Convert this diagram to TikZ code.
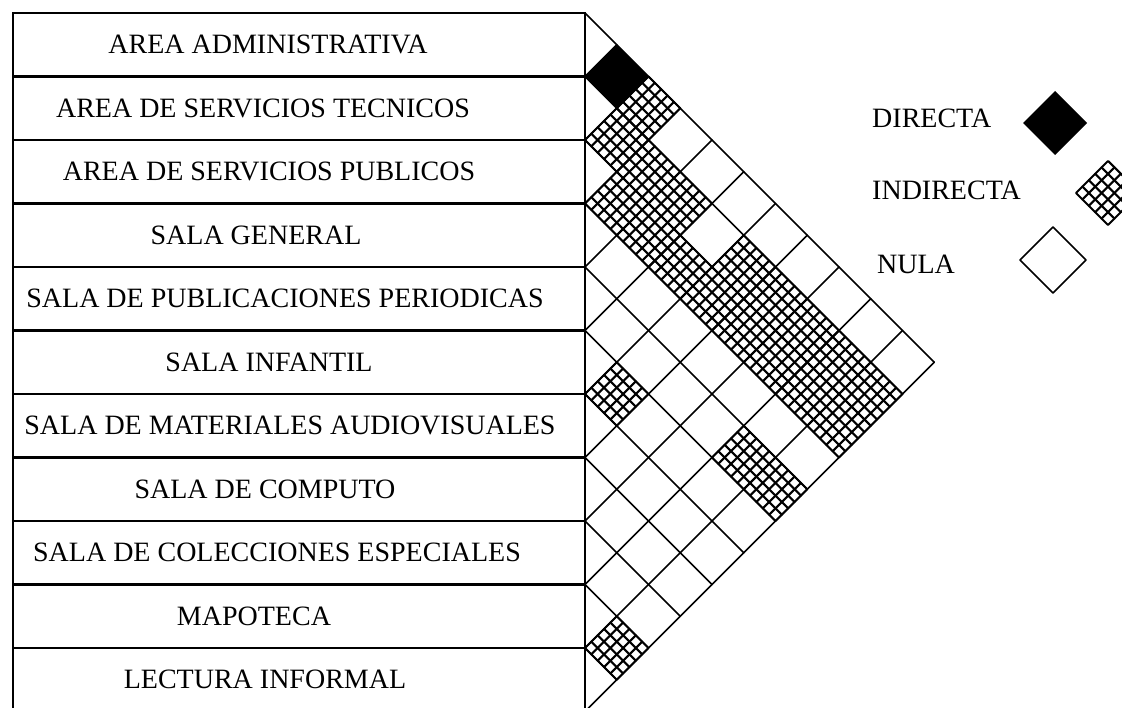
\documentclass[tikz,border=0pt]{standalone}
\usepackage{fontspec}
\setmainfont{Liberation Serif}
\newcommand{\hatchdia}[3]{%
  \begin{scope}
  \foreach \f in {0.2,0.4,0.6,0.8} {
    \draw[hatchln] ({#1-#3+\f*#3},{#2-\f*#3}) -- ({#1+\f*#3},{#2+#3-\f*#3});
    \draw[hatchln] ({#1-#3+\f*#3},{#2+\f*#3}) -- ({#1+\f*#3},{#2-#3+\f*#3});
  }
  \draw[hatchln] ({#1-#3},#2) -- (#1,{#2-#3}) -- ({#1+#3},#2) -- (#1,{#2+#3}) -- cycle;
  \end{scope}}
\newcommand{\hcell}[2]{%
  \pgfmathsetmacro{\cx}{585+(#2-#1)*31.75}%
  \pgfmathsetmacro{\cy}{13+(#1+#2+1)*31.75}%
  \hatchdia{\cx}{\cy}{31.75}}
\begin{document}
\begin{tikzpicture}[x=1pt,y=-1pt,
  tbl/.style={line width=2.2pt},
  grd/.style={line width=1.7pt, line cap=round},
  hatchln/.style={line width=2.1pt, line cap=round, line join=round},
  lbl/.style={font=\fontsize{28}{30}\selectfont, inner sep=0pt, anchor=center}]
\useasboundingbox (0,0) rectangle (1122,708);
\fill[white] (0,0) rectangle (1122,708);
% table
\draw[tbl] (13,711.5) -- (13,13) -- (585,13) -- (585,711.5);
\foreach \m in {1,...,10} {
  \draw[tbl] (13,{13+63.5*\m}) -- (585,{13+63.5*\m});
}
% black cell
\fill[black] (585,76.5) -- (616.75,44.75) -- (648.5,76.5) -- (616.75,108.25) -- cycle;
% hatched cells
\foreach \i/\j in {0/2,1/2,1/3,1/4,2/3,2/4,2/5,2/6,2/7,2/8,2/9,2/10,1/6,1/7,1/8,1/9,1/10,5/6,4/9,4/10,9/10} {
  \hcell{\i}{\j}
}
% grid
\foreach \m in {0,...,11} {
  \draw[grd] (585,{13+63.5*\m}) -- ({585+(11-\m)*31.75},{13+63.5*\m+(11-\m)*31.75});
  \draw[grd] (585,{13+63.5*\m}) -- ({585+31.75*\m},{13+31.75*\m});
}
% labels
\node[lbl] (r0) at (268,44.75) {AREA ADMINISTRATIVA};
\node[lbl] (r1) at (263,108.25) {AREA DE SERVICIOS TECNICOS};
\node[lbl] (r2) at (269,171.75) {AREA DE SERVICIOS PUBLICOS};
\node[lbl] (r3) at (256,235.25) {SALA GENERAL};
\node[lbl] (r4) at (285,298.75) {SALA DE PUBLICACIONES PERIODICAS};
\node[lbl] (r5) at (269,362.25) {SALA INFANTIL};
\node[lbl] (r6) at (290,425.75) {SALA DE MATERIALES AUDIOVISUALES};
\node[lbl] (r7) at (265,489.25) {SALA DE COMPUTO};
\node[lbl] (r8) at (277,552.75) {SALA DE COLECCIONES ESPECIALES};
\node[lbl] (r9) at (254,616.25) {MAPOTECA};
\node[lbl] (r10) at (265,679.75) {LECTURA INFORMAL};
% legend
\node[lbl, anchor=west] (ldir) at (872,118) {DIRECTA};
\node[lbl, anchor=west] (lind) at (872,190) {INDIRECTA};
\node[lbl, anchor=west] (lnul) at (877,264) {NULA};
\fill[black] (1023,123) -- (1055,91) -- (1087,123) -- (1055,155) -- cycle;
\hatchdia{1108}{193}{32}
\draw[grd, line join=round] (1020,260) -- (1053,227) -- (1086,260) -- (1053,293) -- cycle;
\end{tikzpicture}
\end{document}
